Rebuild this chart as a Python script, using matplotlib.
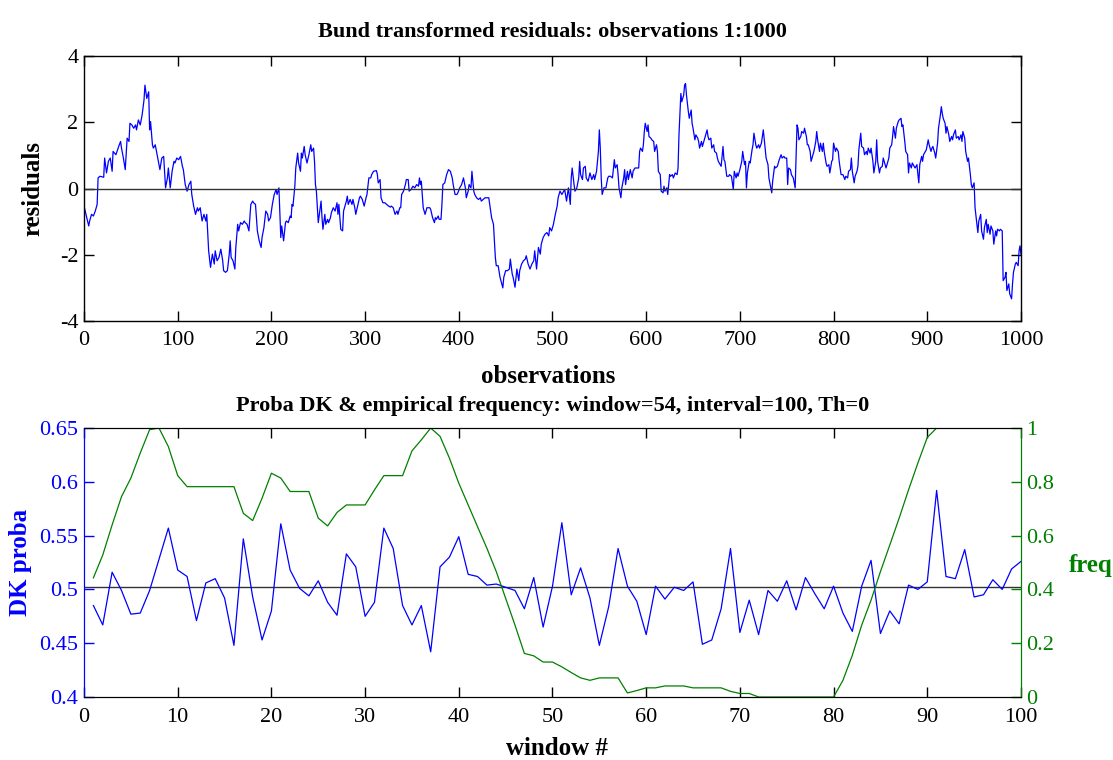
import matplotlib
matplotlib.use("Agg")
import matplotlib.pyplot as plt
from matplotlib.ticker import FuncFormatter

obs_x = [
    0, 5, 6, 8, 10, 12, 14, 15, 17, 21, 22, 24,
    26, 28, 30, 31, 34, 37, 39, 40, 42, 44, 46, 48,
    49, 51, 53, 55, 56, 58, 60, 62, 64, 65, 67, 69,
    70, 71, 73, 74, 76, 78, 80, 81, 83, 85, 87, 89,
    90, 92, 94, 96, 97, 99, 101, 103, 105, 106, 108, 110,
    112, 114, 115, 117, 119, 121, 122, 124, 126, 128, 130, 131,
    133, 135, 137, 139, 140, 142, 144, 146, 148, 149, 151, 153,
    155, 156, 157, 159, 161, 162, 164, 165, 167, 169, 171, 172,
    174, 176, 178, 180, 181, 183, 185, 187, 189, 190, 192, 194,
    196, 197, 199, 201, 203, 205, 206, 208, 210, 211, 213, 215,
    216, 218, 220, 221, 222, 223, 225, 226, 228, 229, 231, 232,
    233, 235, 236, 238, 240, 242, 243, 245, 246, 247, 248, 249,
    250, 252, 253, 254, 255, 257, 258, 260, 261, 263, 264, 266,
    268, 270, 271, 272, 274, 276, 277, 280, 281, 282, 284, 286,
    287, 289, 290, 292, 294, 295, 297, 299, 301, 302, 304, 306,
    307, 309, 312, 313, 314, 316, 317, 319, 321, 323, 325, 327,
    328, 330, 332, 334, 335, 337, 338, 339, 341, 343, 344, 346,
    347, 349, 351, 353, 355, 357, 358, 359, 360, 362, 364, 366,
    369, 370, 372, 374, 375, 376, 378, 379, 381, 382, 383, 385,
    387, 389, 391, 393, 394, 396, 398, 399, 401, 403, 405, 407,
    408, 410, 411, 413, 414, 416, 417, 419, 421, 423, 424, 426,
    428, 430, 432, 433, 435, 437, 439, 440, 442, 444, 447, 448,
    450, 452, 454, 455, 457, 458, 460, 462, 464, 465, 467, 469,
    471, 472, 474, 476, 478, 480, 481, 483, 485, 487, 488, 490,
    492, 494, 496, 497, 499, 501, 503, 505, 506, 508, 510, 512,
    513, 515, 517, 519, 520, 521, 523, 524, 526, 528, 529, 530,
    532, 533, 535, 536, 538, 540, 542, 544, 545, 547, 549, 550,
    551, 552, 553, 555, 557, 559, 560, 562, 564, 566, 567, 569,
    570, 571, 573, 574, 576, 577, 578, 580, 581, 583, 585, 586,
    588, 590, 592, 593, 594, 596, 597, 598, 599, 601, 602, 603,
    605, 606, 608, 609, 611, 612, 613, 615, 616, 618, 619, 620,
    622, 623, 625, 626, 628, 629, 631, 633, 634, 635, 637, 638,
    640, 641, 642, 643, 645, 646, 648, 649, 650, 652, 653, 655,
    656, 657, 659, 660, 662, 663, 665, 666, 667, 669, 670, 672,
    673, 675, 676, 677, 679, 680, 682, 683, 684, 686, 688, 689,
    691, 693, 694, 696, 697, 698, 700, 702, 703, 705, 706, 707,
    708, 710, 711, 713, 714, 715, 717, 718, 720, 721, 723, 724,
    725, 727, 728, 730, 731, 733, 734, 735, 737, 738, 740, 741,
    742, 744, 745, 747, 748, 750, 751, 752, 754, 755, 757, 758,
    759, 761, 762, 763, 765, 766, 768, 769, 771, 772, 773, 775,
    776, 778, 779, 781, 782, 783, 785, 786, 788, 789, 790, 792,
    793, 795, 796, 798, 799, 800, 802, 803, 805, 806, 808, 810,
    812, 813, 815, 816, 818, 819, 820, 822, 823, 825, 826, 827,
    829, 830, 832, 833, 835, 836, 837, 839, 840, 842, 843, 845,
    846, 847, 849, 850, 852, 853, 854, 856, 857, 859, 860, 862,
    863, 864, 866, 867, 869, 870, 872, 873, 874, 876, 877, 879,
    880, 881, 883, 884, 886, 887, 889, 890, 891, 892, 894, 895,
    896, 898, 899, 901, 902, 904, 905, 906, 908, 909, 911, 912,
    914, 915, 916, 917, 919, 920, 921, 923, 924, 926, 927, 928,
    930, 931, 933, 934, 936, 937, 938, 940, 941, 943, 944, 946,
    947, 948, 950, 951, 953, 954, 955, 957, 958, 960, 961, 963,
    964, 965, 967, 968, 970, 971, 973, 974, 975, 977, 978, 980,
    981, 983, 984, 985, 987, 988, 990, 991, 992, 994, 995, 997,
    998, 999, 1000,
]
resid = [
    -0.53, -1.13, -0.98, -0.78, -0.83, -0.68, -0.48, 0.32, 0.37, 0.34, 0.92, 0.47,
    0.82, 0.92, 0.52, 1.12, 1.02, 1.27, 1.42, 1.22, 0.92, 0.57, 1.52, 1.42,
    1.97, 1.92, 1.82, 1.92, 1.77, 2.07, 1.92, 2.22, 2.67, 3.12, 2.72, 2.92,
    1.77, 2.02, 1.32, 1.22, 1.32, 1.02, 0.72, 0.57, 0.92, 0.97, 0.02, 0.32,
    0.62, 0.02, 0.52, 0.82, 0.77, 0.92, 0.87, 0.97, 0.67, 0.57, 0.12, -0.08,
    0.12, 0.22, -0.18, -0.53, -0.78, -0.58, -0.68, -0.58, -0.98, -0.78, -0.98, -0.78,
    -1.88, -2.38, -1.98, -2.28, -1.88, -2.18, -2.08, -1.83, -2.18, -2.48, -2.53, -2.48,
    -1.98, -1.58, -2.08, -2.18, -2.43, -1.78, -1.08, -1.28, -1.03, -1.08, -0.98, -1.03,
    -1.08, -1.28, -0.48, -0.38, -0.43, -0.48, -1.28, -1.58, -1.78, -1.48, -1.18, -0.68,
    -0.78, -0.98, -0.88, -0.48, -0.18, -0.03, -0.18, 0.02, -1.48, -1.13, -1.58, -1.03,
    -0.98, -1.03, -0.83, -0.88, -0.48, -0.53, 0.07, 0.62, 1.07, 0.77, 0.52, 1.07,
    0.92, 1.27, 1.02, 0.77, 1.02, 1.32, 1.12, 1.22, 0.82, 0.12, -0.08, -0.58,
    -1.03, -0.58, -0.38, -0.88, -1.23, -0.78, -1.08, -0.93, -1.03, -0.88, -0.73, -0.58,
    -0.68, -0.43, -0.78, -0.48, -1.23, -1.28, -0.68, -0.38, -0.23, -0.48, -0.33, -0.48,
    -0.33, -0.58, -0.78, -0.53, -0.28, -0.23, -0.33, -0.53, -0.28, -0.18, 0.32, 0.32,
    0.42, 0.52, 0.54, 0.44, 0.17, 0.27, -0.28, -0.43, -0.43, -0.48, -0.53, -0.56,
    -0.53, -0.58, -0.78, -0.68, -0.78, -0.58, -0.58, -0.18, -0.08, 0.12, 0.27, 0.27,
    -0.08, -0.03, 0.07, 0.02, 0.12, 0.07, 0.32, 0.12, 0.22, -0.58, -0.78, -0.58,
    -0.58, -0.63, -0.88, -1.03, -0.88, -0.93, -0.83, -0.93, -0.93, -0.48, 0.12, 0.17,
    0.42, 0.57, 0.52, 0.32, 0.12, -0.18, -0.18, -0.13, 0.02, 0.12, 0.32, 0.02,
    -0.28, -0.08, 0.12, 0.02, 0.52, -0.08, -0.18, -0.28, -0.33, -0.28, -0.38, -0.33,
    -0.28, -0.28, -0.28, -0.48, -0.88, -1.08, -2.08, -2.33, -2.33, -2.68, -3.0, -2.68,
    -2.48, -2.48, -2.43, -2.13, -2.58, -2.68, -2.98, -2.43, -2.78, -2.48, -2.28, -2.18,
    -2.13, -2.03, -2.28, -2.43, -2.28, -2.18, -1.88, -2.43, -1.78, -1.98, -1.68, -1.48,
    -1.38, -1.33, -1.43, -1.18, -1.28, -1.08, -0.78, -0.53, -0.28, -0.08, -0.18, -0.08,
    -0.03, -0.38, 0.02, -0.48, 0.32, 0.62, 0.12, -0.08, 0.02, 0.32, 0.82, 0.42,
    0.27, 0.62, 0.67, 0.32, 0.22, 0.47, 0.27, 0.42, 0.27, 0.52, 1.12, 1.77,
    1.22, 0.32, -0.18, 0.02, 0.02, 0.32, 0.37, 0.37, 0.32, 0.87, 0.62, 0.72,
    0.42, 0.02, -0.28, 0.02, 0.32, 0.57, 0.12, 0.52, 0.27, 0.57, 0.32, 0.52,
    0.62, 0.62, 0.62, 1.12, 1.22, 1.12, 1.32, 1.72, 1.97, 1.72, 1.92, 1.57,
    1.52, 1.47, 1.42, 1.12, 1.32, 1.12, 0.52, 0.42, -0.08, -0.13, 0.07, -0.08,
    0.02, -0.18, 0.42, 0.37, 0.42, 0.32, 0.47, 0.42, 0.62, 1.62, 2.87, 2.62,
    2.82, 3.12, 3.17, 2.82, 2.32, 2.12, 2.37, 1.97, 1.82, 1.47, 1.62, 1.52,
    1.42, 1.22, 1.42, 1.27, 1.47, 1.57, 1.77, 1.57, 1.47, 1.52, 1.22, 1.32,
    1.12, 1.07, 0.92, 0.82, 0.72, 0.67, 1.27, 0.87, 0.82, 0.37, 0.37, 0.42,
    0.37, -0.03, 0.52, 0.32, 0.47, 0.37, 0.57, 0.82, 1.12, 0.72, 0.82, 0.02,
    0.47, 0.82, 0.77, 1.17, 1.32, 1.67, 1.32, 1.22, 1.32, 1.22, 1.37, 1.57,
    1.77, 1.22, 0.92, 0.72, 0.32, 0.02, -0.13, 0.22, 0.67, 0.62, 0.67, 0.77,
    0.87, 1.02, 0.92, 0.97, 0.92, 0.92, 0.12, 0.62, 0.57, 0.42, 0.32, 0.17,
    0.02, 1.92, 1.82, 1.47, 1.57, 1.72, 1.67, 1.82, 1.57, 1.32, 1.32, 1.12,
    0.82, 1.02, 1.12, 1.42, 1.72, 1.47, 1.12, 1.37, 1.12, 1.37, 1.12, 0.77,
    0.67, 0.72, 0.47, 0.82, 0.87, 1.37, 1.12, 1.22, 1.12, 0.82, 0.42, 0.42,
    0.27, 0.37, 0.32, 0.52, 0.57, 0.92, 0.52, 0.17, 0.37, 0.52, 0.67, 1.17,
    1.67, 1.27, 1.22, 1.02, 1.12, 1.02, 1.22, 1.07, 1.22, 0.82, 0.47, 0.82,
    1.47, 0.82, 0.47, 0.62, 0.67, 0.92, 0.82, 0.62, 0.72, 0.92, 1.22, 1.32,
    1.57, 1.87, 1.52, 1.82, 2.02, 2.07, 2.12, 1.87, 1.92, 1.42, 1.12, 1.02,
    0.47, 0.77, 0.62, 0.77, 0.67, 0.62, 0.72, 0.42, 0.17, 0.72, 0.97, 0.82,
    1.02, 1.12, 1.17, 1.47, 1.32, 1.12, 1.22, 1.27, 1.07, 0.92, 1.37, 1.82,
    2.22, 2.47, 2.27, 2.12, 1.97, 1.67, 1.87, 1.62, 1.42, 1.57, 1.47, 1.62,
    1.77, 1.52, 1.57, 1.47, 1.62, 1.42, 1.72, 1.52, 1.12, 0.82, 0.92, 0.42,
    0.12, 0.02, 0.17, -0.58, -1.08, -1.33, -0.98, -0.78, -1.28, -1.53, -1.18, -0.93,
    -1.33, -1.08, -1.38, -1.13, -1.28, -1.68, -1.28, -1.43, -1.23, -1.28, -1.23, -1.28,
    -2.78, -2.68, -2.53, -3.08, -2.88, -3.18, -3.33, -2.88, -2.53, -2.28, -2.23, -2.33,
    -1.88, -1.73, -1.98,
]

# bottom panel: windows 1..100
window = list(range(1, 101))
dk_proba = [
    0.485, 0.467, 0.516, 0.499, 0.477, 0.478, 0.499, 0.528, 0.557, 0.518,
    0.512, 0.471, 0.506, 0.510, 0.492, 0.448, 0.547, 0.493, 0.453, 0.480,
    0.561, 0.518, 0.501, 0.494, 0.508, 0.488, 0.476, 0.533, 0.521, 0.475,
    0.488, 0.557, 0.538, 0.485, 0.467, 0.485, 0.442, 0.521, 0.530, 0.549,
    0.514, 0.512, 0.504, 0.505, 0.502, 0.499, 0.482, 0.511, 0.465, 0.503,
    0.562, 0.495, 0.520, 0.492, 0.448, 0.484, 0.538, 0.503, 0.489, 0.458,
    0.503, 0.491, 0.502, 0.499, 0.507, 0.449, 0.453, 0.482, 0.538, 0.460,
    0.490, 0.458, 0.499, 0.489, 0.508, 0.481, 0.511, 0.496, 0.482, 0.503,
    0.478, 0.461, 0.503, 0.527, 0.459, 0.480, 0.468, 0.504, 0.500, 0.507,
    0.592, 0.512, 0.510, 0.537, 0.493, 0.495, 0.509, 0.500, 0.519, 0.526,
]
freq = [
    0.443, 0.528, 0.640, 0.745, 0.814, 0.907, 0.994, 1.000, 0.931, 0.823,
    0.782, 0.782, 0.782, 0.782, 0.782, 0.782, 0.683, 0.656, 0.739, 0.832,
    0.814, 0.764, 0.764, 0.764, 0.665, 0.636, 0.686, 0.714, 0.714, 0.714,
    0.770, 0.823, 0.823, 0.823, 0.915, 0.956, 1.000, 0.969, 0.888, 0.795,
    0.714, 0.633, 0.553, 0.466, 0.367, 0.267, 0.162, 0.153, 0.130, 0.130,
    0.112, 0.091, 0.071, 0.062, 0.071, 0.071, 0.071, 0.015, 0.024, 0.034,
    0.034, 0.041, 0.041, 0.041, 0.034, 0.034, 0.034, 0.034, 0.021, 0.013,
    0.013, 0.000, 0.000, 0.000, 0.000, 0.000, 0.000, 0.000, 0.000, 0.000,
    0.062, 0.155, 0.267, 0.360, 0.466, 0.565, 0.665, 0.770, 0.870, 0.965,
    1.000, 1.000, 1.000, 1.000, 1.000, 1.000, 1.000, 1.000, 1.000, 1.000,
]
dk_ref = 0.5025

BLUE = '#0000ff'
GREEN = '#008000'

plt.rcParams['font.family'] = ['Liberation Serif', 'DejaVu Serif']
plt.rcParams['font.size'] = 16
plt.rcParams['axes.unicode_minus'] = False


def matlab_ticks(ax, color='black'):
    ax.tick_params(direction='in', length=7, width=1, top=True, right=True,
                   colors=color, pad=4)
    ax.tick_params(axis='x', pad=7)


fig = plt.figure(figsize=(11.13, 7.6), dpi=100)

# ---- top panel
ax1 = fig.add_axes([0.0755, 0.5776, 0.8418, 0.3487])
ax1.plot(obs_x, resid, color=BLUE, lw=0.9)
ax1.axhline(0, color='#333333', lw=1.0)
ax1.set_xlim(0, 1000)
ax1.set_ylim(-4, 4)
ax1.set_xticks(range(0, 1001, 100))
ax1.set_yticks([-4, -2, 0, 2, 4])
matlab_ticks(ax1)
for s in ax1.spines.values():
    s.set_linewidth(1.0)
ax1.set_title('Bund transformed residuals: observations 1:1000',
              fontweight='bold', fontsize=16, pad=14)
ax1.set_ylabel('residuals', fontweight='bold', fontsize=18)
ax1.yaxis.set_label_coords(-0.042, 0.5)
ax1.set_xlabel('observations', fontweight='bold', fontsize=18)
ax1.xaxis.set_label_coords(0.495, -0.165)

# ---- bottom panel
ax2 = fig.add_axes([0.0755, 0.0829, 0.8418, 0.3539])
ax2.plot(window, dk_proba, color=BLUE, lw=0.9, zorder=3)
ax2.axhline(dk_ref, color='#333333', lw=1.0, zorder=2)
ax2.set_xlim(0, 100)
ax2.set_ylim(0.4, 0.65)
ax2.set_xticks(range(0, 101, 10))
ax2.set_yticks([0.4, 0.45, 0.5, 0.55, 0.6, 0.65])
ax2.yaxis.set_major_formatter(FuncFormatter(lambda v, p: '%g' % v))
ax2.tick_params(direction='in', length=7, width=1, top=True, pad=4)
ax2.tick_params(axis='x', pad=8)
ax2.tick_params(axis='y', colors=BLUE, right=False)
ax2.set_title('Proba DK & empirical frequency: window=54, interval=100, Th=0',
              fontweight='bold', fontsize=16, pad=12)
ax2.set_ylabel('DK proba', fontweight='bold', fontsize=18, color=BLUE)
ax2.yaxis.set_label_coords(-0.056, 0.5)
ax2.set_xlabel('window #', fontweight='bold', fontsize=18)
ax2.xaxis.set_label_coords(0.505, -0.15)

ax3 = ax2.twinx()
ax3.plot(window, freq, color=GREEN, lw=0.9)
ax3.set_ylim(0, 1)
ax3.set_yticks([0, 0.2, 0.4, 0.6, 0.8, 1])
ax3.yaxis.set_major_formatter(FuncFormatter(lambda v, p: '%g' % v))
ax3.tick_params(axis='y', direction='in', length=7, width=1, colors=GREEN, pad=4)
ax3.set_ylabel('freq', fontweight='bold', fontsize=18, color=GREEN, rotation=0)
ax3.yaxis.set_label_coords(1.075, 0.53)
ax3.spines['right'].set_color(GREEN)
ax3.spines['left'].set_color(BLUE)
ax2.spines['left'].set_color(BLUE)
ax2.spines['right'].set_color(GREEN)

fig.savefig('out.png', dpi=100)
